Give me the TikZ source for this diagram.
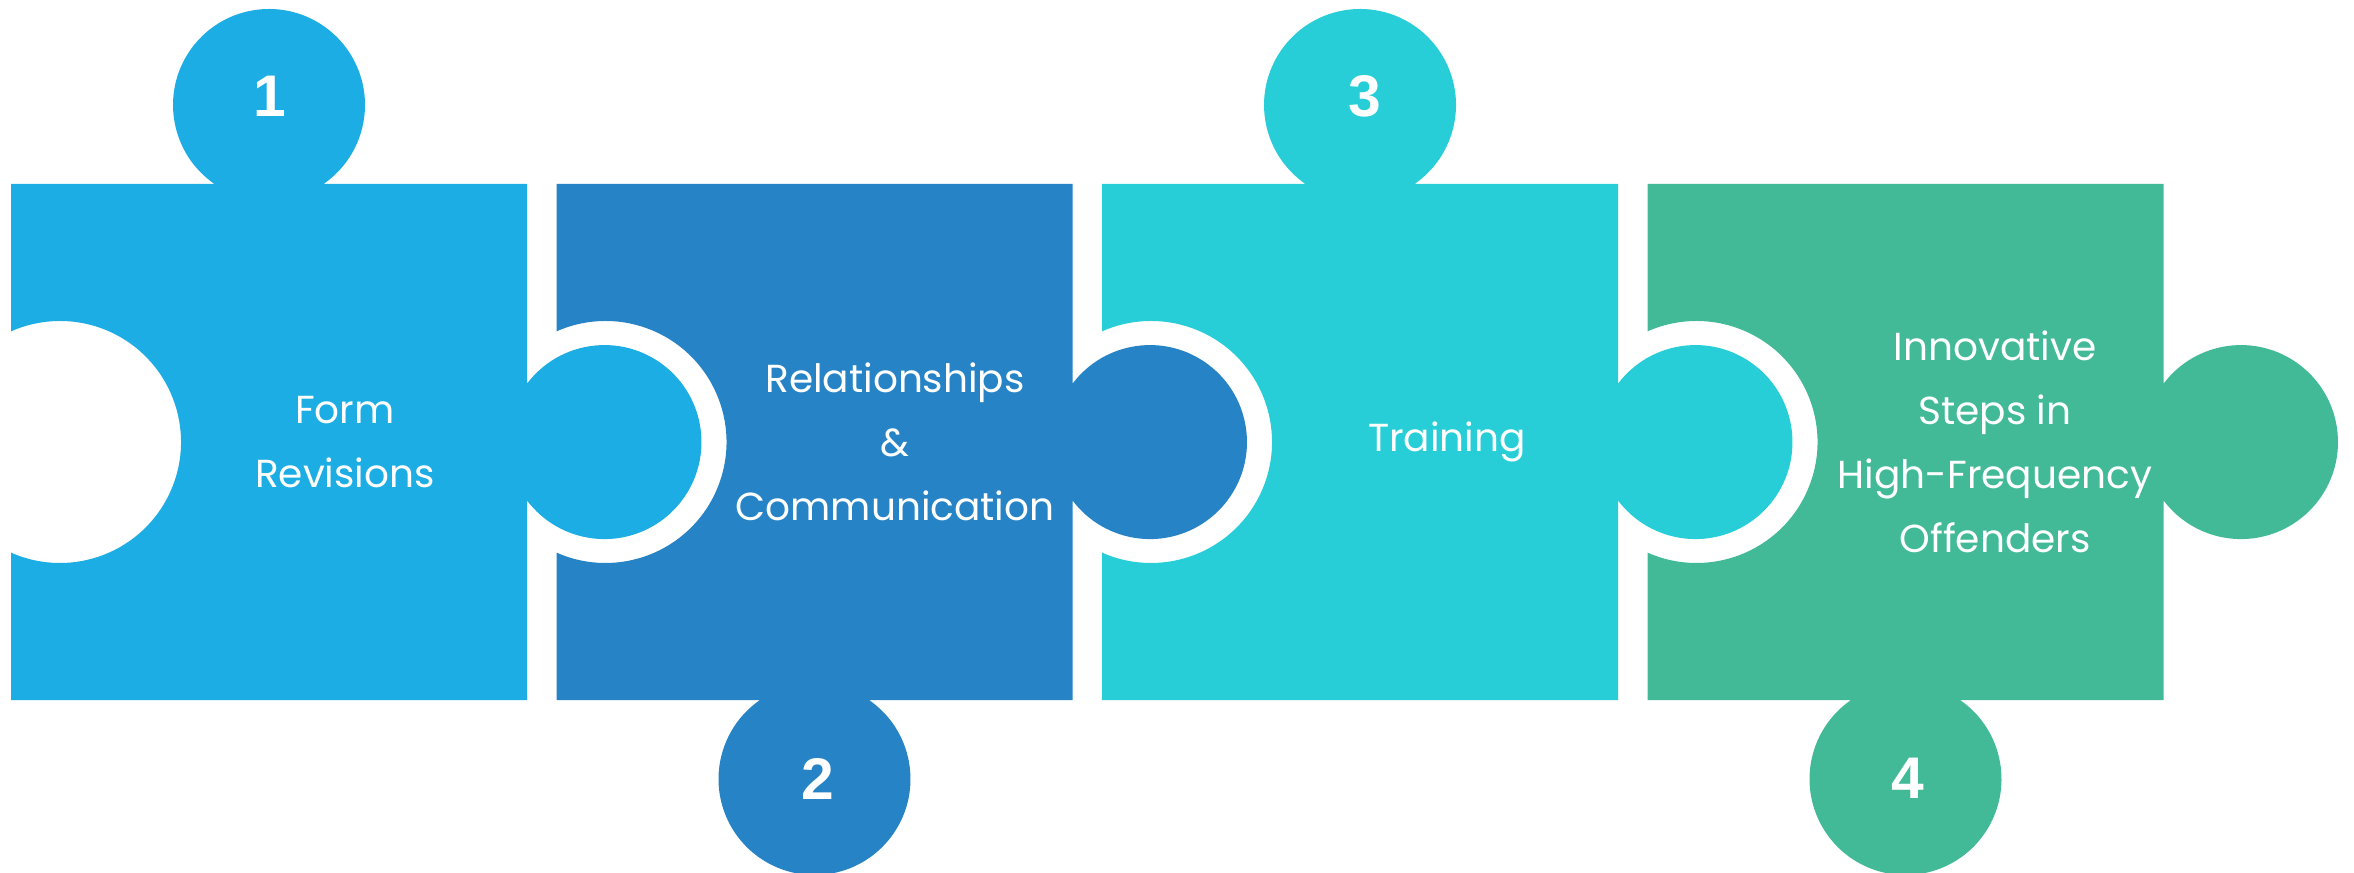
\documentclass[tikz,border=0pt]{standalone}
\usepackage{fontspec}
\usepackage{tikz}
\setmainfont{Poppins}
\newfontfamily\numfont{Liberation Sans}
\definecolor{pieceA}{HTML}{1CADE4}
\definecolor{pieceB}{HTML}{2683C6}
\definecolor{pieceC}{HTML}{27CED7}
\definecolor{pieceD}{HTML}{42BA97}

\begin{document}
\begin{tikzpicture}[x=0.01cm,y=0.01cm,
		label text/.style={text=white,align=center,font=\fontsize{11.1}{18.2}\selectfont},
		num text/.style={text=white,font=\numfont\bfseries\fontsize{16.7}{20}\selectfont}]
			\useasboundingbox (0,0) rectangle (2354,872);
			% piece 1, tab on top
			\fill[pieceA] (11,688) -- (214.5,688) arc[start angle=235.4,end angle=-55.4,radius=96] -- (527,688) -- (527,488.3) arc[start angle=143,end angle=-143,radius=97] -- (527,172) -- (11,172) -- (11,319.4) arc[start angle=-113.9,end angle=113.9,radius=121] -- cycle;
			% piece 2, tab below
			\fill[pieceB] (556.5,688) -- (1072.5,688) -- (1072.5,488.3) arc[start angle=143,end angle=-143,radius=97] -- (1072.5,172) -- (869,172) arc[start angle=55.4,end angle=-235.4,radius=96] -- (556.5,172) -- (556.5,319.4) arc[start angle=-113.9,end angle=113.9,radius=121] -- cycle;
			% piece 3, tab on top
			\fill[pieceC] (1102,688) -- (1305.5,688) arc[start angle=235.4,end angle=-55.4,radius=96] -- (1618,688) -- (1618,488.3) arc[start angle=143,end angle=-143,radius=97] -- (1618,172) -- (1102,172) -- (1102,319.4) arc[start angle=-113.9,end angle=113.9,radius=121] -- cycle;
			% piece 4, tab below
			\fill[pieceD] (1647.5,688) -- (2163.5,688) -- (2163.5,488.3) arc[start angle=143,end angle=-143,radius=97] -- (2163.5,172) -- (1960,172) arc[start angle=55.4,end angle=-235.4,radius=96] -- (1647.5,172) -- (1647.5,319.4) arc[start angle=-113.9,end angle=113.9,radius=121] -- cycle;
			% numbers
			\node[num text] (n1) at (270,776) {1};
			\node[num text] (n2) at (818,93) {2};
			\node[num text] (n3) at (1365,776) {3};
			\node[num text] (n4) at (1908,94) {4};
			% labels
			\node[label text] (t1) at (345,430) {Form\\Revisions};
			\node[label text] (t2) at (895,430) {Relationships\\\&\\Communication};
			\node[label text] (t3) at (1447,430) {Training};
			\node[label text] (t4) at (1995,430) {Innovative\\Steps in\\High-Frequency\\Offenders};
		\end{tikzpicture}
\end{document}
